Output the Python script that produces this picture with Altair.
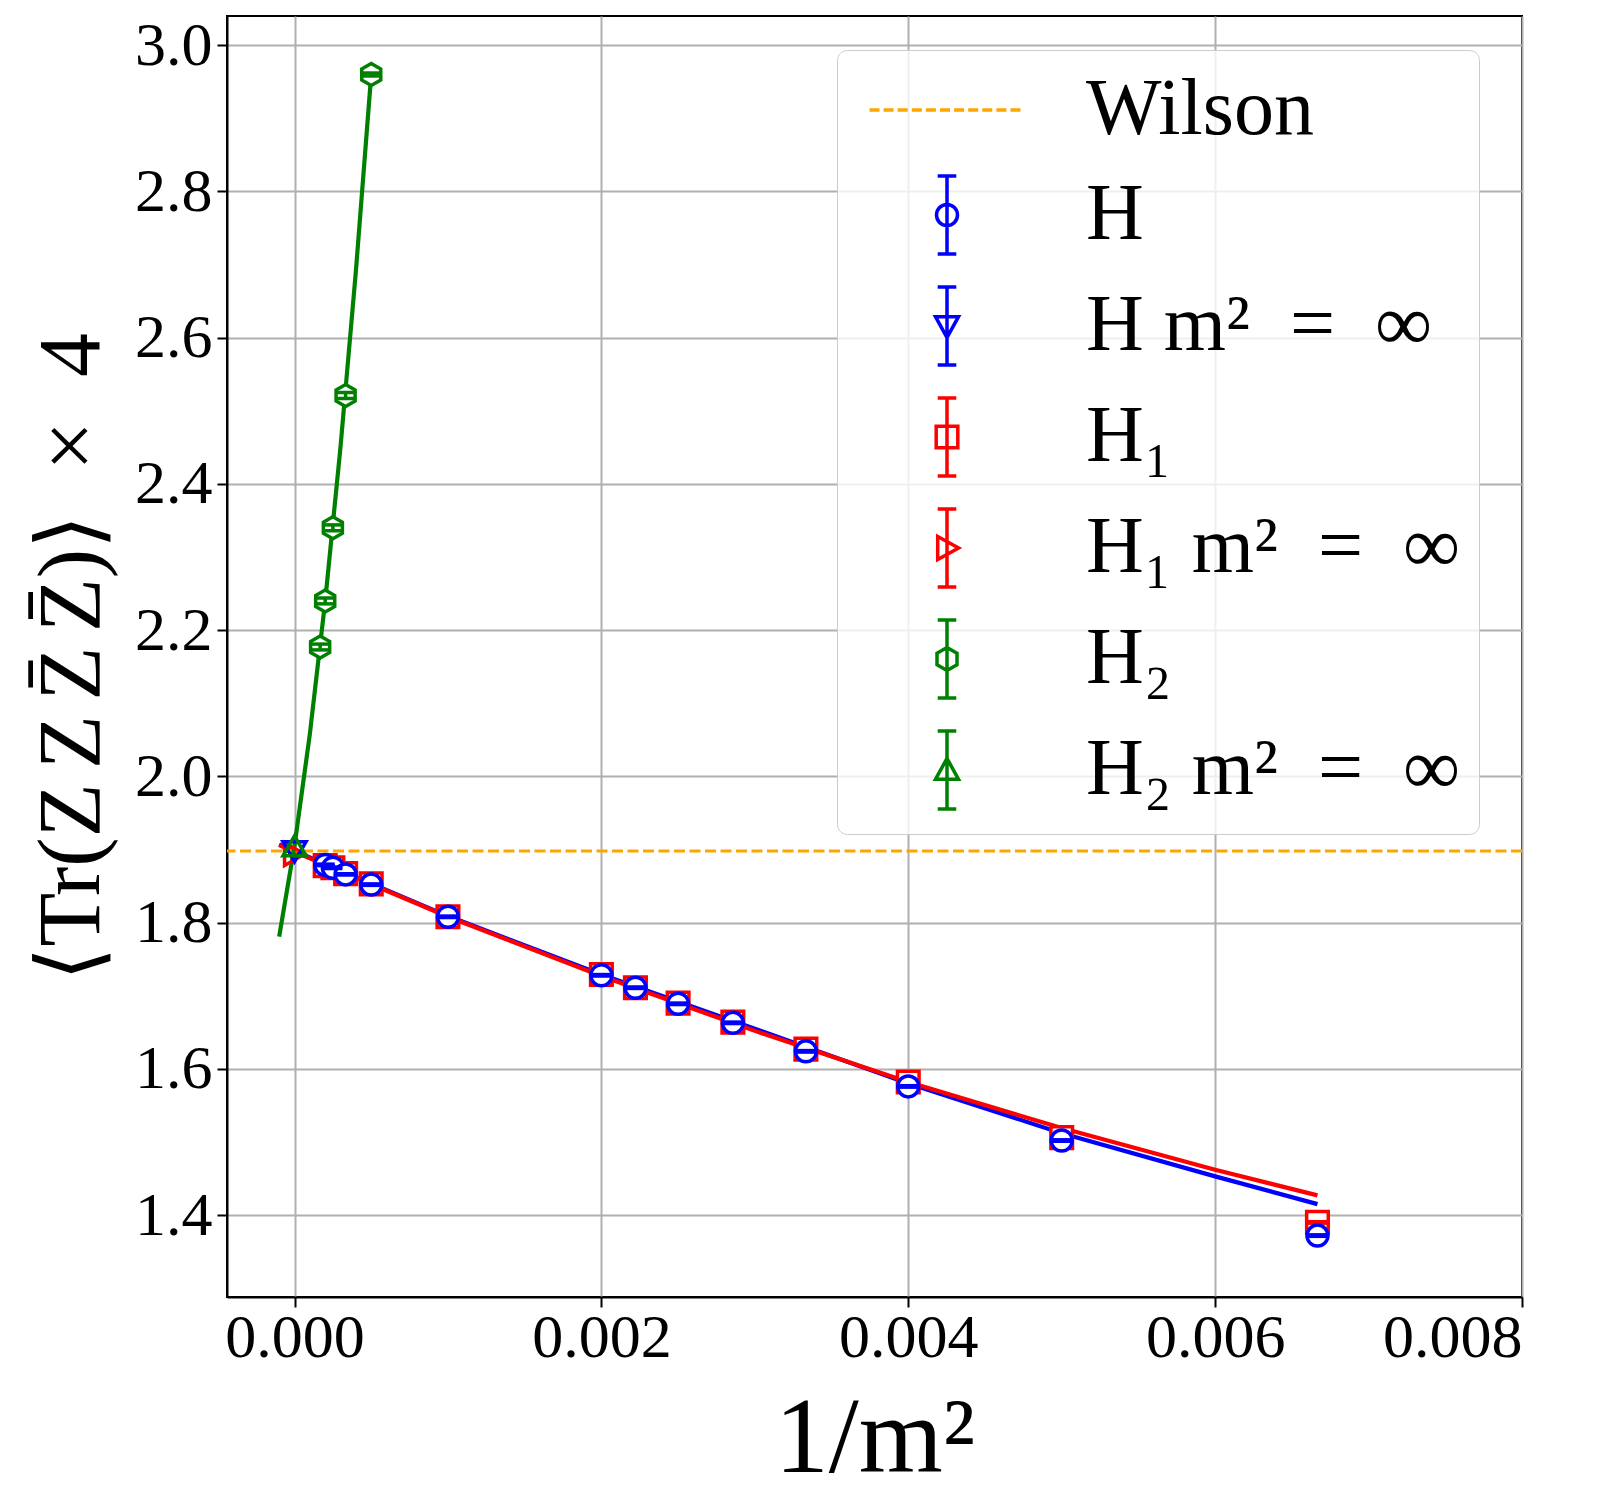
import altair as alt
import pandas as pd

# ---------------- data ----------------
x_m2 = [0.0002, 0.00025, 0.000333, 0.0005, 0.001, 0.002, 0.002222, 0.0025,
        0.002857, 0.003333, 0.004, 0.005, 0.006667]
h_y = [1.879, 1.875, 1.866, 1.852, 1.808, 1.728, 1.711, 1.689, 1.663, 1.624,
       1.576, 1.502, 1.372]
h_err = [0.001, 0.001, 0.001, 0.001, 0.001, 0.001, 0.001, 0.001, 0.001,
         0.001, 0.001, 0.001, 0.001]
h1_y = [1.878, 1.875, 1.867, 1.853, 1.808, 1.729, 1.711, 1.690, 1.664, 1.627,
        1.582, 1.506, 1.390]
h1_err = [0.001, 0.001, 0.001, 0.001, 0.001, 0.001, 0.001, 0.001, 0.001,
          0.001, 0.001, 0.001, 0.001]
h2_x = [0.000167, 0.0002, 0.00025, 0.000333, 0.0005]
h2_y = [2.177, 2.240, 2.340, 2.521, 2.960]
h2_err = [0.004, 0.004, 0.004, 0.004, 0.002]

inf_x = [0.0]
h_inf_y = [1.897]
h1_inf_y = [1.894]
h2_inf_y = [1.905]
wilson_y = [1.898]

fit_x = [-0.0001, 0.0, 0.001, 0.002, 0.003, 0.004, 0.005, 0.006, 0.006667]
h_fit_y = [1.907, 1.898, 1.809, 1.729, 1.655, 1.580, 1.512, 1.453, 1.415]
h1_fit_y = [1.906, 1.897, 1.808, 1.727, 1.652, 1.582, 1.519, 1.462, 1.427]
h2_fit_x = [-0.0001, 0.0, 0.0001, 0.0002, 0.0003, 0.0004, 0.0005]
h2_fit_y = [1.781, 1.905, 2.058, 2.240, 2.451, 2.691, 2.960]

series_names = ["Wilson", "H", "H m²\u2002=\u2002∞", "H₁", "H₁ m²\u2002=\u2002∞",
                "H₂", "H₂ m²\u2002=\u2002∞"]
x_ticks = [0.0, 0.002, 0.004, 0.006, 0.008]
y_ticks = [1.4, 1.6, 1.8, 2.0, 2.2, 2.4, 2.6, 2.8, 3.0]
x_title = "1/m²"
y_title = "⟨Tr(Z\u2006Z\u2006Z̄\u2006Z̄)⟩\u2002×\u20024"

# ---------------- styles ----------------
BLUE, RED, GREEN, ORANGE = "#0000FF", "#FF0000", "#008000", "#FFA500"
series_colors = [ORANGE, BLUE, BLUE, RED, RED, GREEN, GREEN]
FONT = "Liberation Serif, DejaVu Serif, serif"
LW = 3.5
LINE_W = 4.2

# legend symbol geometry, written in pixels and normalised by UNIT
SYM_SIZE = 6400          # sqrt -> 80 px box, path unit = 40 px
UNIT = 40.0


def p(*pts):
    return ",".join(f"{v / UNIT:.4f}" for v in pts)


dash = "".join(f"M{p(-77.5 + i * 14.1, 0)}L{p(-77.5 + i * 14.1 + 10, 0)}" for i in range(11))
bar = (f"M{p(0, -39)}L{p(0, 39)}M{p(-9.3, -39)}L{p(9.3, -39)}"
       f"M{p(-9.3, 39)}L{p(9.3, 39)}")
r = 10.5 / UNIT
circ = f"M{r:.4f},0A{r:.4f},{r:.4f} 0 1,1 {-r:.4f},0A{r:.4f},{r:.4f} 0 1,1 {r:.4f},0Z"
tri_d = f"M{p(-11.5, -9.3)}L{p(11.5, -9.3)}L{p(0, 11.6)}Z"
sq = f"M{p(-10.8, -10.8)}L{p(10.8, -10.8)}L{p(10.8, 10.8)}L{p(-10.8, 10.8)}Z"
tri_r = f"M{p(-9.3, -11.5)}L{p(11.6, 0)}L{p(-9.3, 11.5)}Z"
hexa = (f"M{p(0, -11.5)}L{p(10, -5.75)}L{p(10, 5.75)}L{p(0, 11.5)}"
        f"L{p(-10, 5.75)}L{p(-10, -5.75)}Z")
tri_u = f"M{p(-11.5, 9.3)}L{p(11.5, 9.3)}L{p(0, -11.6)}Z"
legend_paths = [dash, bar + circ, bar + tri_d, bar + sq, bar + tri_r, bar + hexa, bar + tri_u]
hex_marker = "M0,-1L0.866,-0.5L0.866,0.5L0,1L-0.866,0.5L-0.866,-0.5Z"

XDOM = [-0.00044, 0.008]
YDOM = [1.288, 3.04]

xenc = alt.X("x:Q", scale=alt.Scale(domain=XDOM, nice=False, zero=False),
             axis=alt.Axis(values=x_ticks, format=".3f", title=x_title,
                           titlePadding=18, labelPadding=0, titleFontSize=108))
yenc = alt.Y("y:Q", scale=alt.Scale(domain=YDOM, nice=False, zero=False),
             axis=alt.Axis(values=y_ticks, format=".1f",
                           title=y_title, titlePadding=18,
                           labelPadding=5, titleFontSize=88))


def df_xy(xs, ys, errs=None):
    d = {"x": xs, "y": ys}
    if errs is not None:
        d["lo"] = [a - b for a, b in zip(ys, errs)]
        d["hi"] = [a + b for a, b in zip(ys, errs)]
    return pd.DataFrame(d)


def fit_line(xs, ys, color):
    return alt.Chart(df_xy(xs, ys)).mark_line(color=color, strokeWidth=LINE_W, opacity=1).encode(
        x=xenc, y=yenc)


def markers(xs, ys, errs, color, shape, size, fill="white"):
    d = df_xy(xs, ys, errs)
    base = alt.Chart(d)
    pts = base.mark_point(shape=shape, size=size, fill=fill, stroke=color,
                          strokeWidth=LW, opacity=1, fillOpacity=1).encode(x=xenc, y=yenc)
    rule = base.mark_rule(color=color, strokeWidth=LW, opacity=1).encode(
        x=xenc, y=alt.Y("lo:Q"), y2="hi:Q")
    cap_lo = base.mark_tick(orient="horizontal", size=19, thickness=LW, color=color,
                            opacity=1).encode(x=xenc, y=alt.Y("lo:Q"))
    cap_hi = base.mark_tick(orient="horizontal", size=19, thickness=LW, color=color,
                            opacity=1).encode(x=xenc, y=alt.Y("hi:Q"))
    return [pts, rule, cap_lo, cap_hi]


def inf_marker(ys, color, shape):
    return alt.Chart(df_xy(inf_x, ys)).mark_point(
        shape=shape, size=529, filled=False, color=color, strokeWidth=LW, opacity=1
    ).encode(x=xenc, y=yenc)


wilson = alt.Chart(pd.DataFrame({"y": wilson_y})).mark_rule(
    color=ORANGE, strokeDash=[11, 4.5], strokeWidth=3).encode(y=alt.Y("y:Q"))

legend_kw = dict(
    title=None, orient="none", legendX=610, legendY=34,
    labelFont=FONT, labelFontSize=80, labelColor="black", labelLimit=1000,
    labelOffset=97, symbolOffset=50, symbolSize=SYM_SIZE, symbolStrokeWidth=LW,
    symbolOpacity=1, symbolFillColor="transparent", rowPadding=19, padding=18,
    fillColor="rgba(255,255,255,0.8)", strokeColor="#cccccc", cornerRadius=10,
)
legend_df = pd.DataFrame({"series": series_names, "x": [0.0] * 7, "y": wilson_y * 7})
legend_layer = alt.Chart(legend_df).mark_point(filled=False, opacity=0, strokeWidth=LW).encode(
    x=xenc, y=yenc,
    color=alt.Color("series:N", sort=series_names,
                    scale=alt.Scale(domain=series_names, range=series_colors),
                    legend=alt.Legend(**legend_kw)),
    shape=alt.Shape("series:N", sort=series_names,
                    scale=alt.Scale(domain=series_names, range=legend_paths),
                    legend=alt.Legend(**legend_kw)),
)

layers = [
    legend_layer,
    fit_line(fit_x, h_fit_y, BLUE),
    fit_line(fit_x, h1_fit_y, RED),
    wilson,
]
layers += markers(x_m2, h1_y, h1_err, RED, "square", 467)
layers += markers(x_m2, h_y, h_err, BLUE, "circle", 441)
layers.append(fit_line(h2_fit_x, h2_fit_y, GREEN))
layers += markers(h2_x, h2_y, h2_err, GREEN, hex_marker, 484)
layers += [
    inf_marker(h1_inf_y, RED, "triangle-right"),
    inf_marker(h_inf_y, BLUE, "triangle-down"),
    inf_marker(h2_inf_y, GREEN, "triangle-up"),
]

chart = alt.layer(*layers).properties(
    width=1295, height=1281,
    autosize=alt.AutoSizeParams(type="none"),
    padding={"left": 219, "top": 8, "right": 70, "bottom": 196},
    background="white",
).configure_axis(
    labelFont=FONT, labelFontSize=62, labelColor="black",
    titleFont=FONT, titleFontWeight="normal", titleColor="black",
    tickSize=10, tickWidth=2, tickColor="black",
    domainColor="black", domainWidth=2,
    grid=True, gridColor="#b0b0b0", gridWidth=2,
    labelOverlap=False,
).configure_view(stroke="black", strokeWidth=2)

chart.save("out.html", embed_options={"renderer": "svg", "actions": False})
